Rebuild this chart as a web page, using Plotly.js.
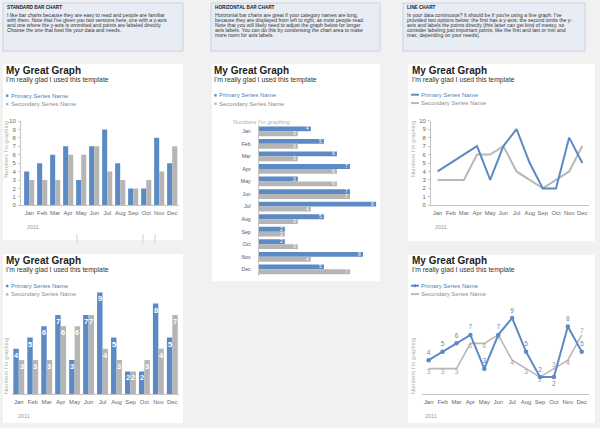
<!DOCTYPE html>
<html><head><meta charset="utf-8">
<script src="https://cdn.plot.ly/plotly-3.0.1.min.js"></script>
<style>html,body{margin:0;padding:0;background:#f1f1f1}#chart{width:600px;height:428px}</style>
</head><body><div id="chart"></div>
<script>
// ---- data ----
const months = ['Jan','Feb','Mar','Apr','May','Jun','Jul','Aug','Sep','Oct','Nov','Dec'];
const primary = [4,5,6,7,3,7,9,5,2,2,8,5];
const secondary = [3,3,3,6,6,7,4,3,2,3,4,7];
const primaryName = 'Primary Series Name';
const secondaryName = 'Secondary Series Name';
const chartTitle = 'My Great Graph';
const chartSubtitle = "I'm really glad I used this template";
const axisName = "Numbers I'm graphing";
const yearLabel = '2011';
const yTicks = [0,1,2,3,4,5,6,7,8,9,10];
const boxTitles = ['STANDARD BAR CHART','HORIZONTAL BAR CHART','LINE CHART'];
const boxLines1 = [
 'I like bar charts because they are easy to read and people are familiar',
 "with them. Note that I've given you two versions here, one with a y-axis",
 'and one where the y-axis is ommitted and points are labeled directly.',
 'Choose the one that best fits your data and needs.'];
const boxLines2 = [
 'Horizontal bar charts are great if your category names are long,',
 'because they are displayed from left to right, as most people read.',
 'Note that you will likely need to adjust the graph below for longer',
 'axis labels. You can do this by condensing the chart area to make',
 'more room for axis labels.'];
const boxLines3 = [
 "Is your data continuous? It should be if you're using a line graph. I've",
 'provided two options below: the first has a y-axis; the second omits the y-',
 'axis and labels the points directly (this latter can get kind of messy, so',
 'consider labeling just important points, like the first and last or min and',
 'max, depending on your needs).'];

// ---- styling / geometry ----
const W = 600, H = 428;
const px = x => x / W;
const py = y => 1 - y / H;
const BLUE = '#5b8ac5', GRAY = '#b5b5b5', LGRAY = '#b8b8b8';
const FONT = '"Liberation Sans", Arial, sans-serif';
const BG = 0.22; // bargap
const OFF = (1 - BG) / 4;

// label placement for the labelled line chart (style only)
const primaryLabelPos = months.map((m,i)=> i===9 ? 'bottom center' : 'top center');
const secondaryLabelPos = months.map((m,i)=> (i===9 || i===11) ? 'top center' : 'bottom center');

function bar(x, y, name, color, xa, ya, orient) {
  return {type:'bar', x:x, y:y, name:name, orientation:orient||'v',
    marker:{color:color, line:{width:0}}, xaxis:xa, yaxis:ya,
    hoverinfo:'skip', showlegend:false, textposition:'none'};
}
const traces = [
  bar(months, primary, primaryName, BLUE, 'x', 'y'),
  bar(months, secondary, secondaryName, GRAY, 'x', 'y'),
  bar(months, primary, primaryName, BLUE, 'x2', 'y2'),
  bar(months, secondary, secondaryName, GRAY, 'x2', 'y2'),
  bar(primary, months, primaryName, BLUE, 'x3', 'y3', 'h'),
  bar(secondary, months, secondaryName, GRAY, 'x3', 'y3', 'h'),
  {type:'scatter', mode:'lines', x:months, y:secondary, name:secondaryName,
   line:{color:LGRAY, width:2}, xaxis:'x4', yaxis:'y4', showlegend:false, hoverinfo:'skip'},
  {type:'scatter', mode:'lines', x:months, y:primary, name:primaryName,
   line:{color:BLUE, width:2}, xaxis:'x4', yaxis:'y4', showlegend:false, hoverinfo:'skip'},
  {type:'scatter', mode:'lines+text', x:months, y:secondary, name:secondaryName,
   text:secondary.map(String), textposition:secondaryLabelPos,
   textfont:{size:6.5, color:'#a3a3a3', family:FONT},
   line:{color:LGRAY, width:1.6}, xaxis:'x5', yaxis:'y5', cliponaxis:false, showlegend:false, hoverinfo:'skip'},
  {type:'scatter', mode:'lines+markers+text', x:months, y:primary, name:primaryName,
   text:primary.map(String), textposition:primaryLabelPos,
   textfont:{size:6.5, color:BLUE, family:FONT},
   marker:{size:4.5, color:BLUE}, line:{color:BLUE, width:2},
   xaxis:'x5', yaxis:'y5', cliponaxis:false, showlegend:false, hoverinfo:'skip'}
];

const axBase = {showgrid:false, zeroline:false, fixedrange:true, linecolor:'#c4c4c4', linewidth:1,
  tickfont:{size:5.9, color:'#666', family:FONT}, ticks:''};
const layout = {
  width:W, height:H, margin:{l:0,r:0,t:0,b:0},
  paper_bgcolor:'#f1f1f1', plot_bgcolor:'rgba(0,0,0,0)',
  font:{family:FONT}, barmode:'group', bargap:BG, bargroupgap:0,
  showlegend:false,
  xaxis: Object.assign({}, axBase, {domain:[px(21), px(178.7)], range:[-0.63, 11.5], anchor:'y', showline:true, ticklabelstandoff:2}),
  yaxis: Object.assign({}, axBase, {domain:[py(205.3), py(121)], range:[0,10], anchor:'x', showline:true,
     tickvals:yTicks, ticks:'outside', ticklen:2, tickcolor:'#c4c4c4', ticklabelstandoff:1}),
  xaxis2: Object.assign({}, axBase, {domain:[px(11.8), px(179.3)], range:[-0.5, 11.5], anchor:'y2', showline:true, ticklabelstandoff:2}),
  yaxis2: Object.assign({}, axBase, {domain:[py(394), py(292.3)], range:[0,9], anchor:'x2', showline:false, showticklabels:false}),
  xaxis3: Object.assign({}, axBase, {domain:[px(258.7), px(380)], range:[0, 9.3], anchor:'y3', showline:false, showticklabels:false}),
  yaxis3: Object.assign({}, axBase, {domain:[py(275.6), py(125)], range:[11.5,-0.5], anchor:'x3', showline:true,
     tickfont:{size:5.2, color:'#555', family:FONT}, ticklabelstandoff:6}),
  xaxis4: Object.assign({}, axBase, {domain:[px(431), px(588.9)], range:[-0.5, 11.5], anchor:'y4', showline:true, ticklabelstandoff:2}),
  yaxis4: Object.assign({}, axBase, {domain:[py(205.3), py(120.7)], range:[0,10], anchor:'x4', showline:true,
     tickvals:yTicks, ticks:'outside', ticklen:2, tickcolor:'#c4c4c4', ticklabelstandoff:1}),
  xaxis5: Object.assign({}, axBase, {domain:[px(421.7), px(588.7)], range:[-0.5, 11.5], anchor:'y5', showline:true, ticklabelstandoff:2}),
  yaxis5: Object.assign({}, axBase, {domain:[py(394), py(318)], range:[0,9], anchor:'x5', showline:false, showticklabels:false}),
  shapes:[], annotations:[]
};

const S = layout.shapes, A = layout.annotations;
function rect(x0,y0,x1,y1,fill,line){ S.push({type:'rect', xref:'paper', yref:'paper', x0:px(x0), x1:px(x1), y0:py(y0), y1:py(y1), fillcolor:fill, line:line||{width:0}, layer:'below'}); }
function seg(x0,y0,x1,y1,color,w){ S.push({type:'line', xref:'paper', yref:'paper', x0:px(x0), x1:px(x1), y0:py(y0), y1:py(y1), line:{color:color, width:w}, layer:'above'}); }
function txt(x,y,t,size,color,opts){ A.push(Object.assign({xref:'paper', yref:'paper', x:px(x), y:py(y), text:t, showarrow:false,
  xanchor:'left', yanchor:'middle', borderpad:0, font:{size:size, color:color, family:FONT}}, opts||{})); }

// info boxes
const boxes = [[3,183,6,boxLines1],[211,380,214,boxLines2],[403,585,406,boxLines3]];
boxes.forEach((b,i)=>{
  rect(b[0],3,b[1],51,'#e8ecf4',{color:'#c9d1e0', width:1});
  txt(b[2], 7.8, '<b>'+boxTitles[i]+'</b>', 4.7, '#1a1a1a');
  b[3].forEach((l,j)=> txt(b[2], 15 + j*4.9, l, 5.1, '#333'));
});

// white panels
rect(3,64,183,240,'#ffffff');
rect(3,254,183,423,'#ffffff');
rect(212,64,380,281,'#ffffff');
rect(408,64,595,241,'#ffffff');
rect(408,255,595,423,'#ffffff');
// small divider artifacts
[77,143,155].forEach(x=>seg(x,234,x,244,'#d3d3d3',1));

// titles, legends
function header(x, ty, ly, kind){
  txt(x, ty, '<b>'+chartTitle+'</b>', 10, '#222');
  txt(x, ty+9.8, chartSubtitle, 6.8, '#333');
  [[primaryName, BLUE, '#4f7cba', 0],[secondaryName, GRAY, '#8c8c8c', 1]].forEach(s=>{
    const yy = ly + s[3]*8.4;
    if (kind === 'bar') {
      S.push({type:'rect', xref:'paper', yref:'paper', x0:px(x+1), x1:px(x+3.4), y0:py(yy+1.2), y1:py(yy-1.2), fillcolor:s[1], line:{width:0}});
      txt(x+5, yy, s[0], 6, s[2]);
    } else {
      seg(x, yy, x+8, yy, s[3]===0?BLUE:LGRAY, 2);
      if (kind === 'linemark' && s[3]===0) S.push({type:'circle', xref:'paper', yref:'paper', x0:px(x+2.5), x1:px(x+5.5), y0:py(yy+1.5), y1:py(yy-1.5), fillcolor:BLUE, line:{width:0}});
      txt(x+9, yy, s[0], 6, s[2]);
    }
  });
}
header(5, 70.4, 95.7, 'bar');
header(5, 260.4, 286, 'bar');
header(213.3, 70.4, 95.3, 'bar');
header(411, 70.4, 94.7, 'line');
header(411, 260.4, 285.7, 'linemark');

// axis names
[[5.7,149],[6.3,366],[413.3,149],[413.3,366]].forEach(p=>
  txt(p[0], p[1], axisName, 5.8, '#b0b0b0', {textangle:-90, xanchor:'center'}));
txt(232.3, 122, axisName, 5.8, '#b0b0b0');
// year labels
[[26,227],[17,416],[434,226.7],[424,416]].forEach(p=> txt(p[0], p[1], yearLabel, 5.5, '#999'));

// bar data labels (panel 2 and panel 3)
months.forEach((m,i)=>{
  A.push({xref:'x2', yref:'y2', x:i-OFF, y:primary[i], yshift:-6.5, text:'<b>'+primary[i]+'</b>', showarrow:false,
    font:{size:7.5, color:'#fff', family:FONT}, borderpad:0});
  A.push({xref:'x2', yref:'y2', x:i+OFF, y:secondary[i], yshift:-6.5, text:'<b>'+secondary[i]+'</b>', showarrow:false,
    font:{size:7.5, color:'#fff', family:FONT}, borderpad:0});
  A.push({xref:'x3', yref:'y3', x:primary[i], y:i-OFF, xanchor:'right', xshift:-1.2, text:String(primary[i]), showarrow:false,
    font:{size:4.8, color:'#fff', family:FONT}, borderpad:0});
  A.push({xref:'x3', yref:'y3', x:secondary[i], y:i+OFF, xanchor:'right', xshift:-1.2, text:String(secondary[i]), showarrow:false,
    font:{size:4.8, color:'#fff', family:FONT}, borderpad:0});
});

Plotly.newPlot('chart', traces, layout, {displayModeBar:false, staticPlot:true});
</script></body></html>
